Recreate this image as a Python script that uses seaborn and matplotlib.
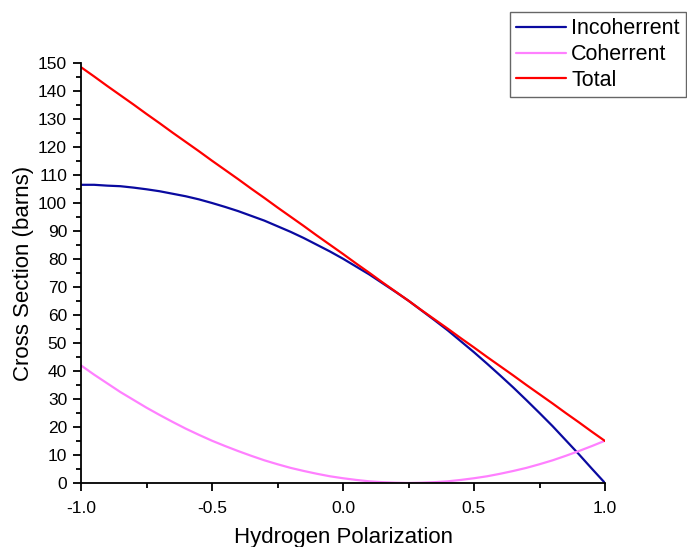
import numpy as np
import pandas as pd
import matplotlib
matplotlib.use('Agg')
import matplotlib.pyplot as plt
import seaborn as sns
from matplotlib.ticker import MultipleLocator, FormatStrFormatter

polarization = [-1.00, -0.95, -0.90, -0.85, -0.80, -0.75, -0.70, -0.65, -0.60, -0.55,
                -0.50, -0.45, -0.40, -0.35, -0.30, -0.25, -0.20, -0.15, -0.10, -0.05,
                0.00, 0.05, 0.10, 0.15, 0.20, 0.25, 0.30, 0.35, 0.40, 0.45,
                0.50, 0.55, 0.60, 0.65, 0.70, 0.75, 0.80, 0.85, 0.90, 0.95, 1.00]

incoherent = [106.5, 106.5, 106.2, 106.0, 105.5, 104.9, 104.2, 103.3, 102.4, 101.3,
              100.0, 98.6, 97.1, 95.4, 93.7, 91.7, 89.7, 87.5, 85.1, 82.7,
              80.1, 77.3, 74.5, 71.4, 68.3, 65.1, 61.6, 58.1, 54.5, 50.6,
              46.7, 42.6, 38.4, 34.1, 29.6, 25.0, 20.3, 15.3, 10.3, 5.1, 0.0]

coherent = [42.0, 38.7, 35.6, 32.5, 29.7, 26.9, 24.3, 21.8, 19.4, 17.2,
            15.1, 13.2, 11.4, 9.7, 8.1, 6.7, 5.4, 4.3, 3.3, 2.4,
            1.7, 1.1, 0.6, 0.3, 0.1, 0.0, 0.1, 0.3, 0.6, 1.1,
            1.7, 2.4, 3.3, 4.3, 5.4, 6.7, 8.1, 9.7, 11.4, 13.2, 15.1]

total = [148.5, 145.2, 141.8, 138.5, 135.2, 131.8, 128.5, 125.1, 121.8, 118.5,
         115.1, 111.8, 108.5, 105.1, 101.8, 98.4, 95.1, 91.8, 88.4, 85.1,
         81.8, 78.4, 75.1, 71.7, 68.4, 65.1, 61.7, 58.4, 55.1, 51.7,
         48.4, 45.0, 41.7, 38.4, 35.0, 31.7, 28.4, 25.0, 21.7, 18.3, 15.0]

series_names = ['Incoherrent', 'Coherrent', 'Total']
colors = {'Incoherrent': '#0A0AA0', 'Coherrent': '#FF80FF', 'Total': '#FF0000'}

df = pd.DataFrame({'P': polarization, 'Incoherrent': incoherent,
                   'Coherrent': coherent, 'Total': total})
long_df = df.melt(id_vars='P', value_vars=series_names, var_name='series', value_name='sigma')

sns.set_style('ticks')
plt.rcParams['font.family'] = ['Liberation Sans', 'DejaVu Sans']
plt.rcParams['text.color'] = 'black'
plt.rcParams['axes.labelcolor'] = 'black'

fig = plt.figure(figsize=(6.87, 5.47), dpi=100)
ax = fig.add_axes([81 / 687, 1 - 483 / 547, 524 / 687, 420 / 547])

sns.lineplot(data=long_df, x='P', y='sigma', hue='series', hue_order=series_names,
             palette=colors, linewidth=1.6, ax=ax, legend=False)

ax.set_xlim(-1, 1)
ax.set_ylim(0, 150)
ax.xaxis.set_major_locator(MultipleLocator(0.5))
ax.xaxis.set_minor_locator(MultipleLocator(0.25))
ax.yaxis.set_major_locator(MultipleLocator(10))
ax.yaxis.set_minor_locator(MultipleLocator(5))
ax.xaxis.set_major_formatter(FormatStrFormatter('%.1f'))
ax.tick_params(which='major', direction='out', length=6, width=1.3, labelsize=12.5,
               colors='black', labelcolor='black')
ax.tick_params(axis='x', which='major', pad=7)
ax.tick_params(axis='y', which='major', pad=4)
ax.tick_params(which='minor', direction='out', length=3.5, width=1.3, colors='black')
ax.spines['right'].set_visible(False)
ax.spines['top'].set_visible(False)
for s in ['left', 'bottom']:
    ax.spines[s].set_linewidth(1.3)
    ax.spines[s].set_color('black')

ax.set_xlabel('Hydrogen Polarization', fontsize=16, labelpad=8)
ax.set_ylabel('Cross Section (barns)', fontsize=16, labelpad=3)

# legend sits outside the axes, top right corner of the figure
handles = [plt.Line2D([], [], color=colors[n], linewidth=1.6) for n in series_names]
leg = fig.legend(handles, series_names, loc='upper right',
                 bbox_to_anchor=(686 / 687, 1 - 12 / 547), bbox_transform=fig.transFigure,
                 fontsize=15.5, frameon=True, fancybox=False, handlelength=2.3,
                 handletextpad=0.25, borderpad=0.3, labelspacing=0.22, borderaxespad=0)
leg.get_frame().set_edgecolor('#404040')
leg.get_frame().set_linewidth(1.0)
for t in leg.get_texts():
    t.set_color('black')

fig.savefig('out.png', dpi=100)
